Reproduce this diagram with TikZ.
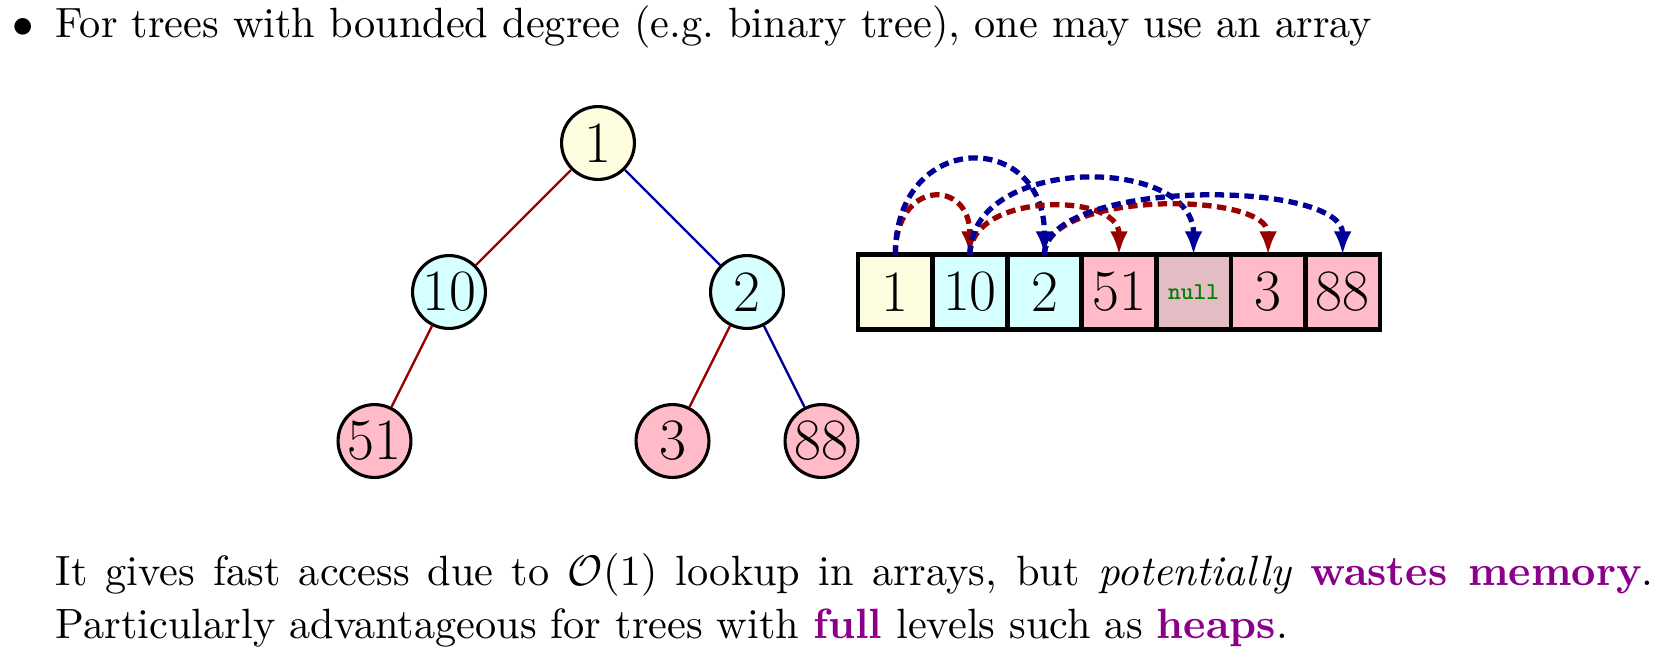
\documentclass[tikz,border=0pt]{standalone}
\usetikzlibrary{positioning,arrows.meta}
\definecolor{nodeyellow}{RGB}{255,253,224}
\definecolor{nodecyan}{RGB}{214,255,255}
\definecolor{nodepink}{RGB}{255,188,200}
\definecolor{nullpink}{RGB}{227,188,196}
\definecolor{darkred}{RGB}{153,0,0}
\definecolor{darkblue}{RGB}{0,0,153}
\definecolor{hlpurple}{RGB}{139,0,139}
\definecolor{nullgreen}{RGB}{0,128,0}

\begin{document}
\begin{tikzpicture}[
    vertex/.style={circle, draw, thick, minimum size=0.656cm, inner sep=0pt, font=\fontsize{15}{18}\selectfont},
    cell/.style={rectangle, draw, very thick, minimum size=0.671cm, inner sep=0pt, outer sep=0pt, font=\fontsize{15}{18}\selectfont},
    redline/.style={semithick, darkred},
    blueline/.style={semithick, darkblue},
    link/.style={-{Latex[length=6pt,width=4.6pt]}, line width=1.35pt, dash pattern=on 2.4pt off 1.4pt},
    txt/.style={anchor=base west, inner sep=0pt, font=\fontsize{10.84}{13.4}\selectfont}
]
    \useasboundingbox (0,0) rectangle (15.102,-5.904);

    % heading
    \node[txt, anchor=base] (dot) at (0.2115,-0.339) {$\bullet$};
    \node[txt] (intro) at (0.495,-0.339) {For trees with bounded degree (e.g.\ binary tree), one may use an array};

    % tree
    \node[vertex, fill=nodeyellow] (n1) at (5.382,-1.287) {1};
    \node[vertex, fill=nodecyan, on grid, below left=1.341cm and 1.341cm of n1] (n10) {10};
    \node[vertex, fill=nodecyan, on grid, below right=1.341cm and 1.341cm of n1] (n2) {2};
    \node[vertex, fill=nodepink, on grid, below left=1.341cm and 0.6705cm of n10] (n51) {51};
    \node[vertex, fill=nodepink, on grid, below left=1.341cm and 0.6705cm of n2] (n3) {3};
    \node[vertex, fill=nodepink, on grid, below right=1.341cm and 0.6705cm of n2] (n88) {88};

    \draw[redline] (n1) -- (n10);
    \draw[blueline] (n1) -- (n2);
    \draw[redline] (n10) -- (n51);
    \draw[redline] (n2) -- (n3);
    \draw[blueline] (n2) -- (n88);

    % array
    \node[cell, fill=nodeyellow] (a1) at (8.058,-2.628) {1};
    \node[cell, fill=nodecyan, right=0pt of a1] (a2) {10};
    \node[cell, fill=nodecyan, right=0pt of a2] (a3) {2};
    \node[cell, fill=nodepink, right=0pt of a3] (a4) {51};
    \node[cell, fill=nullpink, right=0pt of a4, font=\ttfamily\bfseries\fontsize{6.2}{7.5}\selectfont, text=nullgreen] (a5) {null};
    \node[cell, fill=nodepink, right=0pt of a5] (a6) {3};
    \node[cell, fill=nodepink, right=0pt of a6] (a7) {88};

    \draw[link, darkred] (a1.north) .. controls +(0,0.684) and +(0,0.684) .. (a2.north);
    \draw[link, darkblue] (a1.north) .. controls +(0,1.128) and +(0,1.128) .. (a3.north);
    \draw[link, darkred] (a2.north) .. controls +(0,0.564) and +(0,0.564) .. (a4.north);
    \draw[link, darkblue] (a2.north) .. controls +(0,0.9) and +(0,0.9) .. (a5.north);
    \draw[link, darkred] (a3.north) .. controls +(0,0.576) and +(0,0.576) .. (a6.north);
    \draw[link, darkblue] (a3.north) .. controls +(0,0.684) and +(0,0.684) .. (a7.north);

    % remarks
    \node[txt] (line1) at (0.495,-5.265) {\makebox[14.38cm][s]{It gives fast access due to $\mathcal{O}(1)$ lookup in arrays, but \emph{potentially} \textcolor{hlpurple}{\textbf{wastes memory}}.}};
    \node[txt] (line2) at (0.495,-5.742) {Particularly advantageous for trees with \textcolor{hlpurple}{\textbf{full}} levels such as \textcolor{hlpurple}{\textbf{heaps}}.};
\end{tikzpicture}
\end{document}
